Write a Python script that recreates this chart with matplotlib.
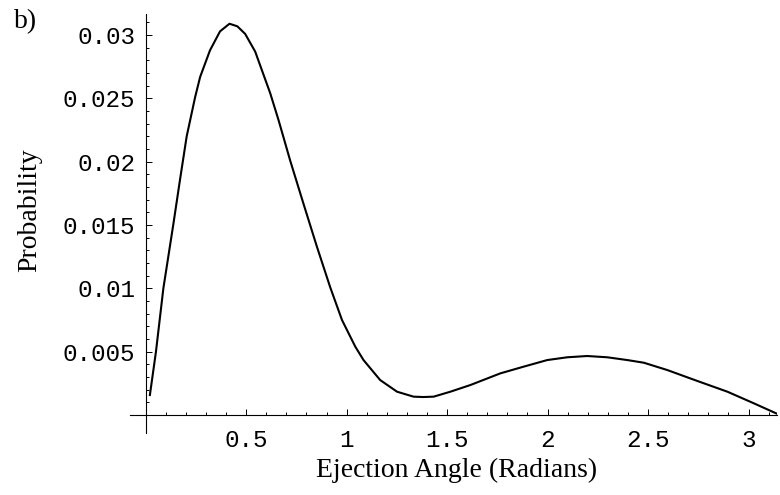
import numpy as np
import matplotlib
matplotlib.use("Agg")
import matplotlib.pyplot as plt
from matplotlib.ticker import FixedLocator

# curve (radians, probability)
angle = [0.021, 0.051, 0.088, 0.138, 0.171, 0.204, 0.246, 0.271, 0.320, 0.370,
         0.417, 0.456, 0.495, 0.545, 0.620, 0.661, 0.719, 0.785, 0.852, 0.918,
         0.977, 1.043, 1.084, 1.167, 1.251, 1.333, 1.382, 1.433, 1.516, 1.616,
         1.765, 1.881, 1.998, 2.098, 2.197, 2.297, 2.397, 2.479, 2.596, 2.745,
         2.895, 3.027, np.pi]
prob = [0.00158, 0.00498, 0.0100, 0.0151, 0.0186, 0.0220, 0.0251, 0.0267, 0.0288, 0.0303,
        0.0309, 0.0307, 0.0301, 0.0287, 0.0254, 0.0233, 0.0201, 0.0167, 0.0133, 0.0101,
        0.0075, 0.0054, 0.00434, 0.00276, 0.00184, 0.00145, 0.00142, 0.00145, 0.00184, 0.00237,
        0.00329, 0.00382, 0.00434, 0.00456, 0.00466, 0.00456, 0.00434, 0.00413, 0.00355, 0.00269,
        0.00184, 0.00092, 0.0001]

xticks = [0.5, 1, 1.5, 2, 2.5, 3]
xticklabels = ["0.5", "1", "1.5", "2", "2.5", "3"]
yticks = [0.005, 0.01, 0.015, 0.02, 0.025, 0.03]
yticklabels = ["0.005", "0.01", "0.015", "0.02", "0.025", "0.03"]

serif = "Liberation Serif"
mono = "Liberation Mono"

fig = plt.figure(figsize=(7.8, 4.95), dpi=100)
ax = fig.add_axes([130 / 780, 1 - 433 / 495, (777 - 130) / 780, (433 - 14) / 495])

ax.plot(angle, prob, color="black", lw=1.5, solid_joinstyle="round")

ax.set_xlim(-0.078, np.pi)
ax.set_ylim(-0.00142, 0.03167)

for s in ["top", "right"]:
    ax.spines[s].set_visible(False)
ax.spines["left"].set_position(("data", 0))
ax.spines["bottom"].set_position(("data", 0))
for s in ["left", "bottom"]:
    ax.spines[s].set_linewidth(0.8)

ax.set_xticks(xticks)
ax.set_xticklabels(xticklabels, fontfamily=mono, fontsize=17.5)
ax.set_yticks(yticks)
ax.set_yticklabels(yticklabels, fontfamily=mono, fontsize=17.5)
ax.xaxis.set_minor_locator(FixedLocator(np.arange(0.1, 3.15, 0.1)))
ax.yaxis.set_minor_locator(FixedLocator(np.arange(0.001, 0.0316, 0.001)))

ax.tick_params(axis="both", which="major", direction="in", length=4.5, width=0.7)
ax.tick_params(axis="both", which="minor", direction="in", length=2.5, width=0.7)
ax.tick_params(axis="x", which="major", pad=10)
ax.tick_params(axis="y", which="major", pad=7.5)

fig.text(457 / 780, 1 - 470 / 495, "Ejection Angle (Radians)", fontfamily=serif,
         fontsize=20, ha="center", va="center")
fig.text(30 / 780, 1 - 210 / 495, "Probability", fontfamily=serif, fontsize=20,
         rotation=90, ha="center", va="center")
fig.text(26 / 780, 1 - 22 / 495, "b)", fontfamily=serif, fontsize=20,
         ha="center", va="center")

fig.savefig("out.png", dpi=100)
